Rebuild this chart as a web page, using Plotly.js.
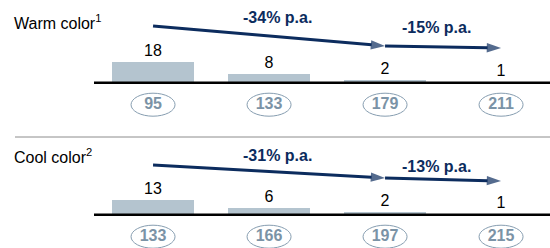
<!DOCTYPE html>
<html><head><meta charset="utf-8">
<script src="https://cdn.plot.ly/plotly-3.0.1.min.js"></script>
<style>html,body{margin:0;padding:0;background:#fff}#chart{width:550px;height:248px}</style>
</head><body><div id="chart"></div>
<script>
// ---- data ----
const positions = [0, 1, 2, 3];
const warmValues = [18, 8, 2, 1];
const warmCircles = ['95', '133', '179', '211'];
const warmRates = ['-34% p.a.', '-15% p.a.'];
const coolValues = [13, 6, 2, 1];
const coolCircles = ['133', '166', '197', '215'];
const coolRates = ['-31% p.a.', '-13% p.a.'];
const panelTitles = ['Warm color<sup>1</sup>', 'Cool color<sup>2</sup>'];

// ---- styling / geometry ----
const W = 550, H = 248;
const k = 1.15;               // px per unit
const barColor = '#b4c4cf';
const navy = '#0c2c5e';
const circColor = '#7b93a6';
const font = 'Arial, "Liberation Sans", sans-serif';
const xRange = [-0.509, 3.422];
const circOff = -22 / k, circHalfH = 11.5 / k, circHalfW = 22 / 116;

const panels = [
  {vals: warmValues, circ: warmCircles, rates: warmRates, title: panelTitles[0], top: 0, bot: 124, base: 82.7, titleY: 22,
   arrows: [[0, 26, 2, 46], [2, 46, 3, 48]], rateLbl: [[1.07, 17], [2.44, 27]]},
  {vals: coolValues, circ: coolCircles, rates: coolRates, title: panelTitles[1], top: 124, bot: 248, base: 214.7, titleY: 156,
   arrows: [[0, 165, 2, 178], [2, 178, 3, 181]], rateLbl: [[1.07, 155.7], [2.44, 166]]}
];

const data = [], shapes = [], annotations = [];
const layout = {
  width: W, height: H, margin: {l: 0, r: 0, t: 0, b: 0},
  paper_bgcolor: '#fff', plot_bgcolor: 'rgba(0,0,0,0)', showlegend: false,
  font: {family: font}, hovermode: false, bargap: 0
};

panels.forEach((p, i) => {
  const xa = i === 0 ? 'x' : 'x2', ya = i === 0 ? 'y' : 'y2';
  const xk = i === 0 ? 'xaxis' : 'xaxis2', yk = i === 0 ? 'yaxis' : 'yaxis2';
  const toY = px => (p.base - px) / k;
  layout[xk] = {domain: [94 / W, 1], range: xRange, showgrid: false, zeroline: false, showline: false,
    showticklabels: false, ticks: '', fixedrange: true, anchor: ya};
  layout[yk] = {domain: [1 - p.bot / H, 1 - p.top / H], range: [toY(p.bot), toY(p.top)], showgrid: false,
    zeroline: false, showline: false, showticklabels: false, ticks: '', fixedrange: true, anchor: xa};

  data.push({type: 'bar', x: positions, y: p.vals, xaxis: xa, yaxis: ya, width: 82 / 116,
    marker: {color: barColor, line: {width: 0}}, text: p.vals.map(String), textposition: 'outside',
    textfont: {size: 16, color: '#000', family: font}, cliponaxis: false});
  data.push({type: 'scatter', mode: 'text', x: positions, y: positions.map(() => circOff), xaxis: xa, yaxis: ya,
    text: p.circ.map(t => '<b>' + t + '</b>'), textposition: 'middle center',
    textfont: {size: 16, color: circColor, family: font}, cliponaxis: false});

  // arrows: line + arrow-tip marker
  p.arrows.forEach(a => {
    data.push({type: 'scatter', mode: 'lines+markers', x: [a[0], a[2]], y: [toY(a[1]), toY(a[3])], xaxis: xa, yaxis: ya,
      line: {color: navy, width: 3}, cliponaxis: false,
      marker: {symbol: 'arrow', angleref: 'previous', size: [0, 15], color: navy, line: {width: 0}}});
  });

  positions.forEach(c => {
    shapes.push({type: 'circle', xref: xa, yref: ya, x0: c - circHalfW, x1: c + circHalfW,
      y0: circOff - circHalfH, y1: circOff + circHalfH, line: {color: '#869db0', width: 1}, layer: 'above'});
  });
  shapes.push({type: 'line', xref: xa + ' domain', yref: ya, x0: 0, x1: 1, y0: 0, y1: 0,
    line: {color: '#000', width: 2.5}, layer: 'above'});

  annotations.push({xref: 'paper', yref: 'paper', x: 12 / W, y: 1 - p.titleY / H, xanchor: 'left', yanchor: 'middle',
    text: p.title, showarrow: false, font: {size: 16, color: '#000', family: font}});

  p.rates.forEach((r, j) => {
    annotations.push({xref: xa, yref: ya, x: p.rateLbl[j][0], y: toY(p.rateLbl[j][1]), xanchor: 'center', yanchor: 'middle',
      text: '<b>' + r + '</b>', showarrow: false, font: {size: 16, color: navy, family: font}});
  });
});

shapes.push({type: 'line', xref: 'paper', yref: 'paper', x0: 15 / W, x1: 1, y0: 1 - 137 / H, y1: 1 - 137 / H,
  line: {color: '#8c8c8c', width: 1}});

layout.shapes = shapes;
layout.annotations = annotations;
Plotly.newPlot('chart', data, layout, {staticPlot: true, displayModeBar: false});
</script></body></html>
